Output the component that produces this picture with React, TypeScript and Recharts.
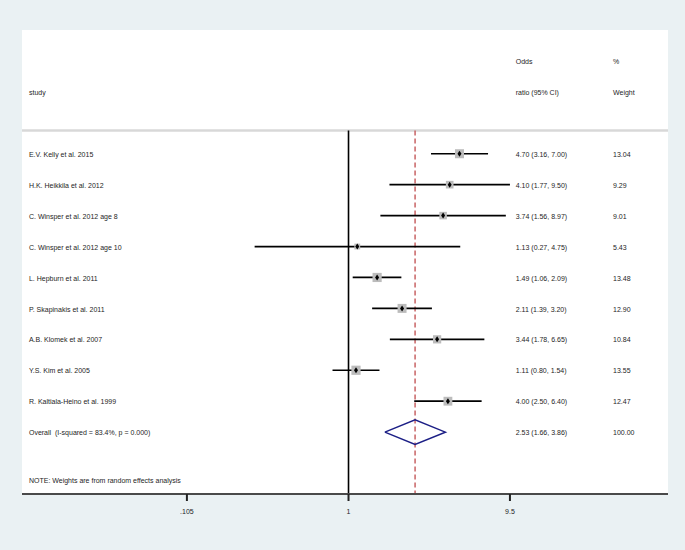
// Forest plot: odds ratios per study with 95% CI, random effects pooled estimate.
// Stata metan style: grey weight boxes, black point + CI line, navy pooled diamond,
// dashed red line at the pooled estimate, log-scaled OR axis.

import {
  ErrorBar,
  ReferenceLine,
  Scatter,
  ScatterChart,
  XAxis,
  YAxis,
} from 'recharts'

const studies = [
  'E.V. Kelly et al. 2015',
  'H.K. Heikkila et al. 2012',
  'C. Winsper et al. 2012 age 8',
  'C. Winsper et al. 2012 age 10',
  'L. Hepburn et al. 2011',
  'P. Skapinakis et al. 2011',
  'A.B. Klomek et al. 2007',
  'Y.S. Kim et al. 2005',
  'R. Kaltiala-Heino et al. 1999',
]
const oddsRatio = [4.7, 4.1, 3.74, 1.13, 1.49, 2.11, 3.44, 1.11, 4.0]
const ciLow = [3.16, 1.77, 1.56, 0.27, 1.06, 1.39, 1.78, 0.8, 2.5]
const ciHigh = [7.0, 9.5, 8.97, 4.75, 2.09, 3.2, 6.65, 1.54, 6.4]
const weights = [13.04, 9.29, 9.01, 5.43, 13.48, 12.9, 10.84, 13.55, 12.47]

const overallLabel = 'Overall  (I-squared = 83.4%, p = 0.000)'
const overall = { or: 2.53, low: 1.66, high: 3.86, weight: 100 }
const noteText = 'NOTE: Weights are from random effects analysis'
const axisTicks = [0.105, 1, 9.5]

// layout (in axis units): x is odds ratio on a log scale, y is row number
const X_DOMAIN: [number, number] = [0.01053, 86.1]
const Y_DOMAIN: [number, number] = [-4, 11]
const COL_STUDY = 0.0116
const COL_OR = 10.3
const COL_WEIGHT = 40
const HEADER_RULE = -0.75
const NOTE_ROW = 10.55
const OVERALL_ROW = studies.length

const BG = '#eaf1f3'
const BOX = '#bcbcbc'
const NAVY = '#1c1f86'
const RED = '#c4585a'
const FONT = '"Liberation Sans", Arial, sans-serif'
const FONT_SIZE = 7

const fmt = (v: number) => v.toFixed(2)

const rows = studies.map((name, i) => ({
  x: oddsRatio[i],
  y: i,
  w: weights[i],
  err: [oddsRatio[i] - ciLow[i], ciHigh[i] - oddsRatio[i]],
}))

const labels = [
  { x: COL_OR, y: -3, text: 'Odds' },
  { x: COL_WEIGHT, y: -3, text: '%' },
  { x: COL_STUDY, y: -2, text: 'study' },
  { x: COL_OR, y: -2, text: 'ratio (95% CI)' },
  { x: COL_WEIGHT, y: -2, text: 'Weight' },
  ...studies.flatMap((name, i) => [
    { x: COL_STUDY, y: i, text: name },
    { x: COL_OR, y: i, text: `${fmt(oddsRatio[i])} (${fmt(ciLow[i])}, ${fmt(ciHigh[i])})` },
    { x: COL_WEIGHT, y: i, text: fmt(weights[i]) },
  ]),
  { x: COL_STUDY, y: OVERALL_ROW, text: overallLabel },
  { x: COL_OR, y: OVERALL_ROW, text: `${fmt(overall.or)} (${fmt(overall.low)}, ${fmt(overall.high)})` },
  { x: COL_WEIGHT, y: OVERALL_ROW, text: fmt(overall.weight) },
  { x: COL_STUDY, y: NOTE_ROW, text: noteText },
]

const diamond = [
  { x: overall.low, y: OVERALL_ROW },
  { x: overall.or, y: OVERALL_ROW - 0.4 },
  { x: overall.high, y: OVERALL_ROW },
  { x: overall.or, y: OVERALL_ROW + 0.4 },
  { x: overall.low, y: OVERALL_ROW },
]

function TextShape(props: any) {
  const { cx, cy, payload } = props
  return (
    <text
      x={cx}
      y={cy}
      dy="0.45em"
      fontSize={FONT_SIZE}
      fontFamily={FONT}
      fill="#1e1e1e"
      style={{ whiteSpace: 'pre' }}
    >
      {payload.text}
    </text>
  )
}

function BoxShape(props: any) {
  const { cx, cy, payload } = props
  const side = 2.5 * Math.sqrt(payload.w)
  return <rect x={cx - side / 2} y={cy - side / 2} width={side} height={side} fill={BOX} />
}

function PointShape(props: any) {
  const { cx, cy } = props
  return (
    <polygon
      points={`${cx - 2},${cy} ${cx},${cy - 3} ${cx + 2},${cy} ${cx},${cy + 3}`}
      fill="#000"
    />
  )
}

const NoShape = () => <g />

export default function App() {
  return (
    <div style={{ position: 'absolute', left: 0, top: 0, width: 685, height: 550, background: BG }}>
      <ScatterChart width={685} height={550} margin={{ top: 30, right: 17, bottom: 26, left: 22 }}>
        <rect x={22} y={30} width={646} height={464} fill="#fff" />
        <XAxis
          type="number"
          dataKey="x"
          scale="log"
          domain={X_DOMAIN}
          allowDataOverflow
          ticks={axisTicks}
          tickFormatter={(v: number) => (v < 1 ? String(v).replace(/^0/, '') : String(v))}
          height={30}
          axisLine={{ stroke: '#4a4a4a', strokeWidth: 2 }}
          tickLine={{ stroke: '#222', strokeWidth: 2 }}
          tickSize={7}
          tickMargin={8}
          tick={{ fontSize: FONT_SIZE, fontFamily: FONT, fill: '#1e1e1e' }}
        />
        <YAxis type="number" dataKey="y" domain={Y_DOMAIN} reversed hide allowDataOverflow />
        <ReferenceLine y={HEADER_RULE} stroke="#d8d8d8" strokeWidth={2.5} />
        <ReferenceLine
          segment={[
            { x: 1, y: HEADER_RULE },
            { x: 1, y: Y_DOMAIN[1] },
          ]}
          stroke="#000"
          strokeWidth={1.6}
        />
        <ReferenceLine
          segment={[
            { x: overall.or, y: HEADER_RULE },
            { x: overall.or, y: Y_DOMAIN[1] },
          ]}
          stroke={RED}
          strokeWidth={1.4}
          strokeDasharray="5 3"
        />
        <Scatter data={rows} shape={BoxShape} isAnimationActive={false} />
        <Scatter data={rows} shape={PointShape} isAnimationActive={false}>
          <ErrorBar dataKey="err" direction="x" width={0} stroke="#000" strokeWidth={1.7} />
        </Scatter>
        <Scatter
          data={diamond}
          shape={NoShape}
          line={{ stroke: NAVY, strokeWidth: 1.5 }}
          lineJointType="linear"
          isAnimationActive={false}
        />
        <Scatter data={labels} shape={TextShape} isAnimationActive={false} />
      </ScatterChart>
    </div>
  )
}
